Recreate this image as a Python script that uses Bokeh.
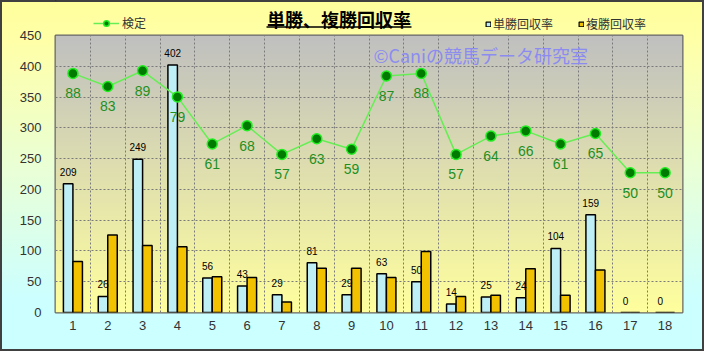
import numpy as np
from bokeh.plotting import figure
from bokeh.layouts import column
from bokeh.models import (Range1d, FixedTicker, ColumnDataSource, Legend, LegendItem, Label)
from bokeh.transform import dodge
from bokeh.core.properties import value
from bokeh.embed import file_html
from bokeh.resources import INLINE

# ---- data ----
categories = [str(i) for i in range(1, 19)]
tansho = [209, 26, 249, 402, 56, 43, 29, 81, 29, 63, 50, 14, 25, 24, 104, 159, 0, 0]
fukusho = [83, 126, 109, 107, 58, 57, 17, 72, 72, 57, 99, 26, 28, 71, 28, 69, 0, 0]
kentei = [88, 83, 89, 79, 61, 68, 57, 63, 59, 87, 88, 57, 64, 66, 61, 65, 50, 50]
y_ticks = [0, 50, 100, 150, 200, 250, 300, 350, 400, 450]

title_text = "単勝、複勝回収率"
series_names = ["検定", "単勝回収率", "複勝回収率"]
watermark = "©Caniの競馬データ研究室"

JP = "Noto Sans CJK JP"
NUM = "Liberation Sans"

BLUE = "#bfeff6"
GOLD = "#f2c200"
LINE_C = "#66ee55"
MK_FILL = "#007a00"
MK_LINE = "#22ee22"

W, H = 704, 351
HDR_H = 35
OVERLAP = 8
BL, BR = 55, 22

# ---------------- header (title + legends) ----------------
hdr = figure(width=W, height=HDR_H, x_range=Range1d(BL, W - BR), y_range=Range1d(HDR_H, 0),
             output_backend="svg", toolbar_location=None, x_axis_type=None, y_axis_type=None,
             min_border_left=BL, min_border_right=BR, min_border_top=0, min_border_bottom=0)
hdr.border_fill_color = None
hdr.background_fill_color = None
hdr.outline_line_color = None
hdr.xgrid.visible = False
hdr.ygrid.visible = False

hdr.add_layout(Label(x=338.5, y=18, text=title_text, text_font=JP, text_font_size="18px",
                     text_font_style="bold", text_color="#000000",
                     text_align="center", text_baseline="middle"))
hdr.segment(x0=[266], y0=[26.5], x1=[411], y1=[26.5], line_color="#000000", line_width=1.5)

# legend-only renderers (kept outside the visible header area)
d_line = hdr.line(x=[0, 1], y=[-100, -100], line_color=LINE_C, line_width=1.5)
d_sc = hdr.scatter(x=[0], y=[-100], size=10, fill_color=MK_FILL, line_color=MK_LINE, line_width=1.5)
d_t = hdr.vbar(x=[0], top=[-100], bottom=[-90], width=1, fill_color=BLUE,
               line_color="#000000", line_width=1.2)
d_f = hdr.vbar(x=[0], top=[-100], bottom=[-90], width=1, fill_color=GOLD,
               line_color="#000000", line_width=1.2)

leg1 = Legend(items=[LegendItem(label=series_names[0], renderers=[d_line, d_sc])],
              location=(93 - BL, 4), padding=0, margin=0, glyph_width=26, glyph_height=14,
              label_height=14, label_standoff=3, border_line_color=None,
              background_fill_alpha=0, label_text_font=JP, label_text_font_size="12px",
              label_text_color="#333333")
leg2 = Legend(items=[LegendItem(label=series_names[1], renderers=[d_t]),
                     LegendItem(label=series_names[2], renderers=[d_f])],
              location=(485 - BL, 3), orientation="horizontal", padding=0, margin=0,
              glyph_width=6, glyph_height=6, label_height=6, label_standoff=2, spacing=25,
              border_line_color=None, background_fill_alpha=0, label_text_font=JP,
              label_text_font_size="12px", label_text_color="#333333")
hdr.add_layout(leg1)
hdr.add_layout(leg2)

# ---------------- main chart ----------------
p = figure(width=W, height=H - HDR_H + OVERLAP, x_range=Range1d(0.5, 18.5), y_range=Range1d(0, 450),
           output_backend="svg", toolbar_location=None,
           min_border_left=BL, min_border_right=BR, min_border_top=OVERLAP, min_border_bottom=39)
p.margin = (-OVERLAP, 0, 0, 0)
p.extra_y_ranges = {"kentei": Range1d(-3.5, 102.5)}
p.border_fill_color = None
p.background_fill_color = None
p.outline_line_color = "#666666"
p.outline_line_width = 2

# plot-area gradient (gray top -> yellow bottom)
n = 256
t = np.linspace(0, 1, n)
top_c = np.array([192, 192, 192])
bot_c = np.array([255, 255, 158])
cols = bot_c[None, :] + (top_c - bot_c)[None, :] * t[:, None]
img = np.zeros((n, 1), dtype=np.uint32)
view = img.view(dtype=np.uint8).reshape((n, 1, 4))
view[:, 0, 0:3] = cols.astype(np.uint8)
view[:, 0, 3] = 255
p.image_rgba(image=[img], x=0.5, y=0, dw=18, dh=450, level="image")

# grids
p.xgrid.ticker = FixedTicker(ticks=[i + 0.5 for i in range(1, 18)])
p.ygrid.ticker = FixedTicker(ticks=y_ticks[1:-1])
for g in (p.xgrid, p.ygrid):
    g.grid_line_color = "#7a7a7a"
    g.grid_line_dash = "2 2"
    g.grid_line_width = 1

# axes
p.xaxis.ticker = FixedTicker(ticks=list(range(1, 19)))
p.xaxis.major_label_overrides = {i + 1: c for i, c in enumerate(categories)}
p.yaxis.ticker = FixedTicker(ticks=y_ticks)
for ax in (p.xaxis, p.yaxis):
    ax.axis_line_color = None
    ax.major_tick_line_color = None
    ax.minor_tick_line_color = None
    ax.major_tick_out = 0
    ax.major_tick_in = 0
    ax.minor_tick_out = 0
    ax.major_label_text_font = NUM
    ax.major_label_text_font_size = "13px"
    ax.major_label_text_color = "#333333"
p.xaxis.major_label_standoff = 8
p.yaxis.major_label_standoff = 14

src = ColumnDataSource(dict(
    x=list(range(1, 19)), cat=categories, tansho=tansho, fukusho=fukusho, kentei=kentei,
    tl=[str(v) for v in tansho], kl=[str(v) for v in kentei]))

bw = 0.273
r_t = p.vbar(x=dodge("x", -bw / 2), top="tansho", width=bw, source=src,
             fill_color=BLUE, line_color="#000000", line_width=1.5)
r_f = p.vbar(x=dodge("x", bw / 2), top="fukusho", width=bw, source=src,
             fill_color=GOLD, line_color="#000000", line_width=1.5)

p.text(x=dodge("x", -bw / 2), y="tansho", text="tl", source=src, y_offset=-12,
       text_align="center", text_baseline="middle", text_font=value(NUM),
       text_font_size="10px", text_color="#000000")

r_l = p.line(x="x", y="kentei", source=src, y_range_name="kentei",
             line_color=LINE_C, line_width=1.5)
r_s = p.scatter(x="x", y="kentei", source=src, y_range_name="kentei", size=10,
                fill_color=MK_FILL, line_color=MK_LINE, line_width=1.5)
p.text(x="x", y="kentei", text="kl", source=src, y_range_name="kentei", y_offset=20,
       text_align="center", text_baseline="middle", text_font=value(NUM),
       text_font_size="14px", text_color="#1f8f1f")

# watermark
p.add_layout(Label(x=9.63, y=419, text=watermark, text_font=JP, text_font_size="18px",
                   text_color="#8c8cf0", text_baseline="middle", text_align="left"))

layout = column(hdr, p, spacing=0)
layout.styles = {
    "background": "linear-gradient(to bottom, #ffff9c 0%, #ffffa8 12%, #e8ffd8 50%, #ccffff 85%, #ccffff 100%)",
    "outline": "2px solid #404040",
    "outline-offset": "-2px",
}

open("out.html", "w").write(file_html(layout, INLINE))
